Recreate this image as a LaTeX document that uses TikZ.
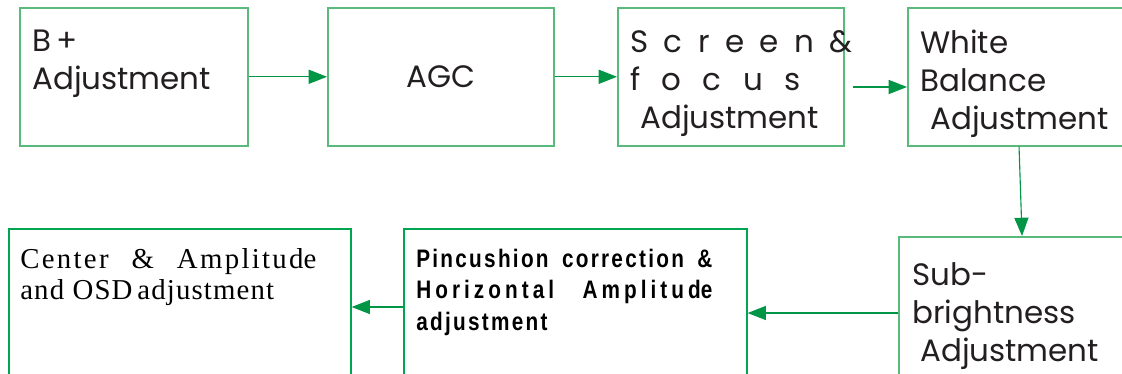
\documentclass[tikz,border=0pt]{standalone}
\usepackage{fontspec}
\setmainfont{Liberation Serif}
\newfontfamily\gothicfont{Poppins}
\newfontfamily\narrowfont[FakeStretch=0.82,LetterSpace=9]{Liberation Sans}
\newfontfamily\widenarrowfont[FakeStretch=0.82,LetterSpace=16]{Liberation Sans}
\newfontfamily\spacedserif[LetterSpace=4]{Liberation Serif}
\newfontfamily\widespacedserif[LetterSpace=8]{Liberation Serif}
\usetikzlibrary{arrows.meta, positioning}
\definecolor{boxgreen}{RGB}{90,186,124}
\definecolor{deepgreen}{RGB}{0,165,80}
\definecolor{linegreen}{RGB}{0,150,70}
\definecolor{inkgray}{RGB}{35,31,32}

\begin{document}
\begin{tikzpicture}[x=0.025cm, y=-0.025cm,
  blk/.style={draw=boxgreen, line width=1.1pt, anchor=north west, inner sep=0pt},
  lbl/.style={anchor=north west, inner sep=0pt, align=left, text=inkgray, font=\gothicfont\fontsize{22}{27}\selectfont},
  flow/.style={draw=linegreen, line width=0.8pt, -{Triangle[length=13pt,width=10pt]}}
]
  \useasboundingbox (0,0) rectangle (1122,374);
  \clip (0,0) rectangle (1122,374);

  % top row
  \node[blk, minimum width=5.7cm, minimum height=3.45cm] (badj) at (19,7) {};
  \node[blk, minimum width=5.65cm, minimum height=3.45cm] (agc) at (327,7) {};
  \node[blk, minimum width=5.65cm, minimum height=3.45cm] (sfadj) at (617,7) {};
  \node[blk, minimum width=6cm, minimum height=3.45cm] (wbadj) at (907,7) {};

  % bottom row
  \node[blk, minimum width=6cm, minimum height=4.5cm] (subadj) at (898,236) {};
  \node[blk, draw=deepgreen, minimum width=8.575cm, minimum height=4.5cm] (pinadj) at (403,228) {};
  \node[blk, draw=deepgreen, minimum width=8.55cm, minimum height=4.5cm] (osdadj) at (8,228) {};

  % labels
  \node[lbl] (badjtxt) at (32,30) {B\,+\\Adjustment};
  \node[lbl, anchor=center] (agctxt) at (agc.center) {AGC};
  \node[lbl] (sftxt) at (630,30) {\makebox[5.55cm][l]{S\hfill c\hfill r\hfill e\hfill e\hfill n\hfill \&}\\
    \makebox[4.25cm][l]{f\hfill o\hfill c\hfill u\hfill s}\\
    \hspace{0.25cm}Adjustment};
  \node[lbl] (wbtxt) at (920,30) {White\\Balance\\\hspace{0.25cm}Adjustment};
  \node[lbl] (subtxt) at (912,262) {Sub-\\brightness\\\hspace{0.2cm}Adjustment};
  \node[lbl, font=\narrowfont\bfseries\fontsize{18}{22.3}\selectfont, text=black] (pintxt) at (416,249)
    {\makebox[7.4cm][s]{Pincushion correction \&}\\
     \makebox[7.4cm][s]{\widenarrowfont\bfseries Horizontal Amplitud\hbox{e}}\\adjustment};
  \node[lbl, font=\spacedserif\fontsize{20.5}{22}\selectfont, text=black] (osdtxt) at (20,248)
    {\makebox[7.4cm][s]{\widespacedserif Center \& Amplitud\hbox{e}}\\and OSD\,adjustment};

  % connectors
  \coordinate (sfout) at (853,87);
  \draw[flow] (badj.east) -- (agc.west);
  \draw[flow] (agc.east) -- (sfadj.west);
  \draw[flow] (sfout) -- (sfout -| wbadj.west);
  \draw[flow] ([xshift=2.8cm]wbadj.south west) -- ([xshift=3.1cm]subadj.north west);
  \draw[flow] (subadj.west |- 0,313) -- (pinadj.east |- 0,313);
  \draw[flow] (pinadj.west |- 0,307) -- (osdadj.east |- 0,307);
\end{tikzpicture}
\end{document}
